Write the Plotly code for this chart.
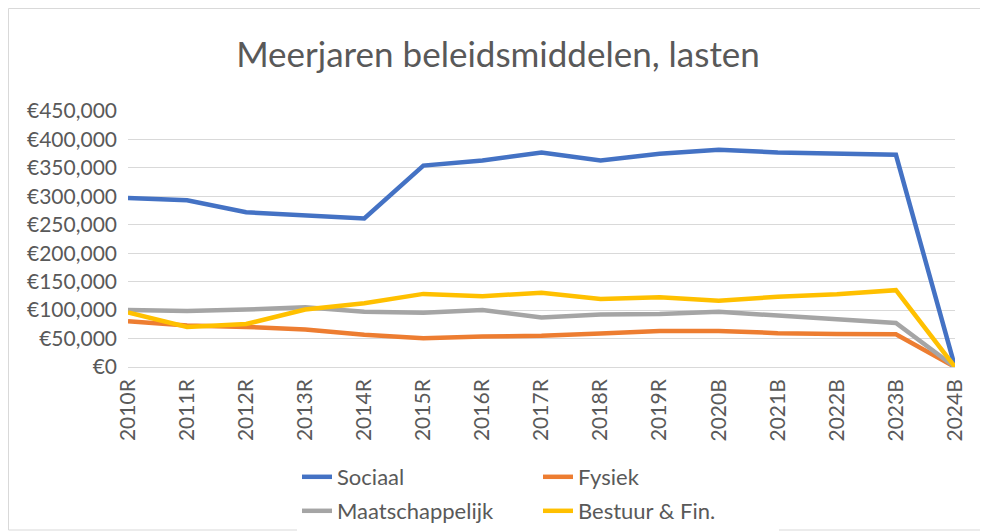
import plotly.graph_objects as go

years = ["2010R", "2011R", "2012R", "2013R", "2014R", "2015R", "2016R", "2017R",
         "2018R", "2019R", "2020B", "2021B", "2022B", "2023B", "2024B"]
sociaal = [297000, 293000, 272000, 266000, 261000, 354000, 363000, 377000,
           363000, 375000, 382000, 377000, 375000, 373000, 0]
fysiek = [80500, 73000, 70500, 66000, 56500, 50500, 53500, 55000,
          59000, 63500, 63500, 59500, 58000, 57500, 0]
maatschappelijk = [100000, 98500, 101000, 105000, 97000, 95500, 100000, 87000,
                   92500, 93000, 97000, 90500, 85500, 77500, 0]
bestuur = [96000, 70500, 75500, 101000, 112000, 128500, 124500, 130500,
           119500, 122500, 116500, 123500, 128000, 135000, 0]

series = [
    ("Sociaal", sociaal, "#4472C4", "legend"),
    ("Fysiek", fysiek, "#ED7D31", "legend"),
    ("Maatschappelijk", maatschappelijk, "#A5A5A5", "legend2"),
    ("Bestuur & Fin.", bestuur, "#FFC000", "legend2"),
]

fig = go.Figure()
for name, vals, col, lg in series:
    fig.add_trace(go.Scatter(x=years, y=vals, name=name, mode="lines", legend=lg,
                             line=dict(color=col, width=4.5)))

# page body has an 8px margin, so the figure is 8px smaller and offset
W, H = 980, 523
L, R, T, B = 120, 33, 103, 164
PW, PH = W - L - R, H - T - B

font_family = "Lato, Carlito, Liberation Sans, sans-serif"
legend_common = dict(orientation="h", x=289 / W, xanchor="left", xref="container",
                     yanchor="top", yref="container",
                     entrywidth=196, entrywidthmode="pixels",
                     font=dict(size=22, color="#595959"), tracegroupgap=0)
fig.update_layout(
    width=W, height=H,
    margin=dict(l=L, r=R, t=T, b=B, autoexpand=False),
    paper_bgcolor="white", plot_bgcolor="white",
    font=dict(family=font_family, color="#595959", size=21),
    title=dict(text="Meerjaren beleidsmiddelen, lasten", x=0.5, xanchor="center",
               xref="container", y=1 - 47 / H, yanchor="middle", yref="container",
               font=dict(size=35, color="#595959", family=font_family)),
    showlegend=True,
    legend=dict(y=1 - 448 / H, **legend_common),
    legend2=dict(y=1 - 482 / H, **legend_common),
    xaxis=dict(type="category", range=[0, 14], tickangle=-90, showgrid=False,
               showline=False, ticks="", automargin=False, ticklabelstandoff=7,
               tickfont=dict(size=21, color="#595959")),
    yaxis=dict(range=[0, 450000], dtick=50000, tickprefix="€", tickformat=",",
               showgrid=True, gridcolor="#D9D9D9", gridwidth=1, zeroline=True,
               zerolinecolor="#D9D9D9", zerolinewidth=1, automargin=False,
               ticklabelstandoff=10,
               tickfont=dict(size=21, color="#595959"), ticks="", ticklen=0),
)
fig.add_shape(type="rect", xref="paper", yref="paper",
              x0=(0.5 - L) / PW, x1=(978 - L) / PW,
              y0=(PH + T - 522) / PH, y1=(PH + T - 0.5) / PH,
              line=dict(color="#D9D9D9", width=1), fillcolor="rgba(0,0,0,0)", layer="below")
fig.write_html("out.html")
